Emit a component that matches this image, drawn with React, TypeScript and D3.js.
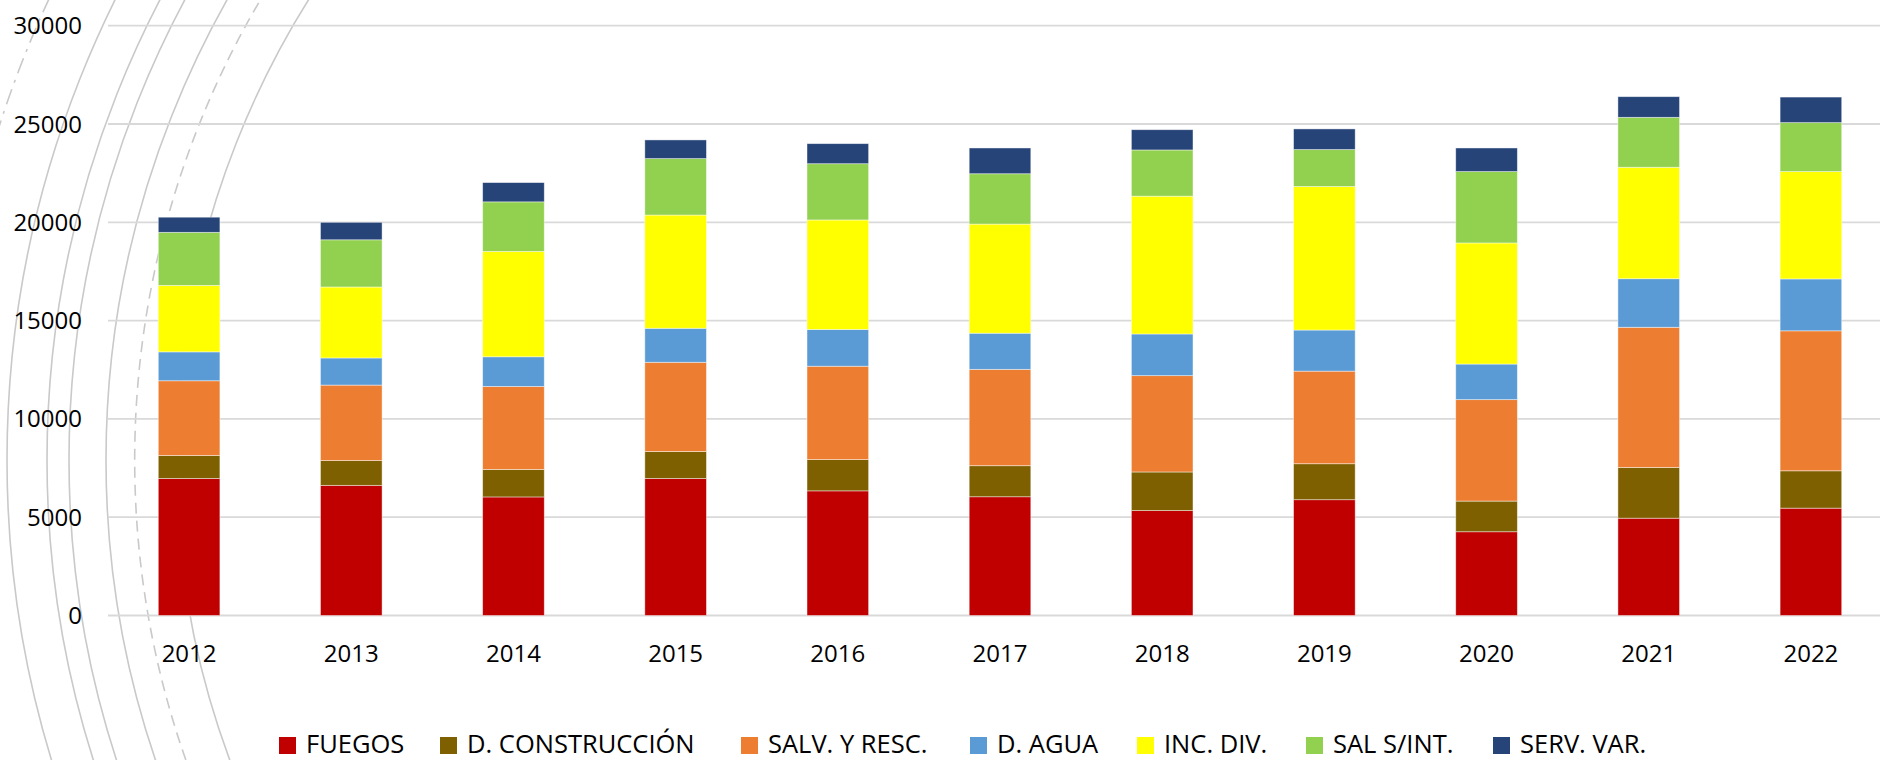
import React, { useEffect, useRef } from 'react';
import * as d3 from 'd3';

// Categories and series
const years = ['2012', '2013', '2014', '2015', '2016', '2017', '2018', '2019', '2020', '2021', '2022'];

const fuegos = [6970, 6620, 6030, 6970, 6340, 6040, 5340, 5890, 4260, 4950, 5460];
const dConstruccion = [1170, 1260, 1400, 1370, 1590, 1580, 1960, 1830, 1560, 2580, 1900];
const salvResc = [3800, 3840, 4220, 4540, 4750, 4900, 4900, 4710, 5160, 7130, 7120];
const dAgua = [1470, 1380, 1510, 1730, 1870, 1840, 2120, 2090, 1810, 2470, 2640];
const incDiv = [3380, 3610, 5360, 5760, 5570, 5550, 7010, 7300, 6160, 5670, 5460];
const salSinInt = [2700, 2400, 2520, 2870, 2860, 2560, 2350, 1880, 3630, 2540, 2490];
const servVar = [770, 890, 980, 950, 1020, 1310, 1030, 1050, 1200, 1050, 1300];

const seriesNames = ['FUEGOS', 'D. CONSTRUCCIÓN', 'SALV. Y RESC.', 'D. AGUA', 'INC. DIV.', 'SAL S/INT.', 'SERV. VAR.'];
const seriesValues = [fuegos, dConstruccion, salvResc, dAgua, incDiv, salSinInt, servVar];
const seriesColors = ['#C00000', '#7F6000', '#ED7D31', '#5B9BD5', '#FFFF00', '#92D050', '#264478'];

const yTicks = [0, 5000, 10000, 15000, 20000, 25000, 30000];

const App = () => {
  const svgRef = useRef<SVGSVGElement>(null);

  useEffect(() => {
    const width = 1880;
    const height = 760;
    const font = "'Open Sans', 'DejaVu Sans', sans-serif";

    const svg = d3.select(svgRef.current);
    svg.selectAll('*').remove();

    svg.append('rect').attr('width', width).attr('height', height).attr('fill', '#fff');

    // background decoration: left edges of big concentric rings
    const ringCx = 1040;
    const ringCy = 460;
    const rings = [
      { r: 1093, dash: '16,7,3,7' },
      { r: 1033, dash: null },
      { r: 993, dash: null },
      { r: 971, dash: null },
      { r: 934, dash: null },
      { r: 905, dash: '11,7' },
      { r: 864, dash: null },
    ];
    const deco = svg.append('g');
    rings.forEach(ring => {
      const p = d3.path();
      p.arc(ringCx, ringCy, ring.r, Math.PI / 2, Math.PI * 1.5);
      deco.append('path')
        .attr('d', p.toString())
        .attr('fill', 'none')
        .attr('stroke', '#c9c9c9')
        .attr('stroke-width', 1.6)
        .attr('stroke-dasharray', ring.dash);
    });

    // scales
    const x = d3.scaleBand()
      .domain(years)
      .range([108, 1892])
      .paddingInner(0.62)
      .paddingOuter(0.31);

    const y = d3.scaleLinear()
      .domain([0, 30000])
      .range([615.5, 25.7]);

    // grid lines
    svg.append('g')
      .selectAll('line')
      .data(yTicks)
      .enter()
      .append('line')
      .attr('x1', 108)
      .attr('x2', width)
      .attr('y1', d => y(d))
      .attr('y2', d => y(d))
      .attr('stroke', '#d9d9d9')
      .attr('stroke-width', 1.8);

    // y tick labels
    svg.append('g')
      .selectAll('text')
      .data(yTicks)
      .enter()
      .append('text')
      .attr('x', 82)
      .attr('y', d => y(d) + 8.5)
      .attr('text-anchor', 'end')
      .attr('font-family', font)
      .attr('font-size', '24px')
      .attr('fill', '#000')
      .text(d => String(d));

    // stacked bars
    const table = years.map((yr, i) => {
      const row: any = { year: yr };
      seriesNames.forEach((name, s) => { row[name] = seriesValues[s][i]; });
      return row;
    });
    const stacked = d3.stack().keys(seriesNames)(table);

    const layers = svg.append('g')
      .selectAll('g')
      .data(stacked)
      .enter()
      .append('g')
      .attr('fill', (d, i) => seriesColors[i]);

    layers.selectAll('rect')
      .data(d => d)
      .enter()
      .append('rect')
      .attr('x', d => x(d.data.year))
      .attr('width', x.bandwidth())
      .attr('y', d => y(d[1]))
      .attr('height', d => y(d[0]) - y(d[1]))
      .attr('stroke', '#ffffff')
      .attr('stroke-opacity', 0.55)
      .attr('stroke-width', 0.8);

    // x labels
    svg.append('g')
      .selectAll('text')
      .data(years)
      .enter()
      .append('text')
      .attr('x', d => x(d) + x.bandwidth() / 2)
      .attr('y', 661.5)
      .attr('text-anchor', 'middle')
      .attr('font-family', font)
      .attr('font-size', '24px')
      .attr('fill', '#000')
      .text(d => d);

    // legend: item start positions follow the reference layout
    const legendX = [279, 440, 741, 970, 1137, 1306, 1493];
    const legend = svg.append('g');
    seriesNames.forEach((name, i) => {
      legend.append('rect')
        .attr('x', legendX[i])
        .attr('y', 737)
        .attr('width', 17)
        .attr('height', 17)
        .attr('fill', seriesColors[i]);
      legend.append('text')
        .attr('x', legendX[i] + 27)
        .attr('y', 753)
        .attr('font-family', font)
        .attr('font-size', '25.5px')
        .attr('fill', '#000')
        .text(name);
    });
  }, []);

  return (
    <svg
      ref={svgRef}
      width={1880}
      height={760}
      viewBox="0 0 1880 760"
      style={{ position: 'absolute', left: 0, top: 0, display: 'block', background: '#fff' }}
    />
  );
};

export default App;
